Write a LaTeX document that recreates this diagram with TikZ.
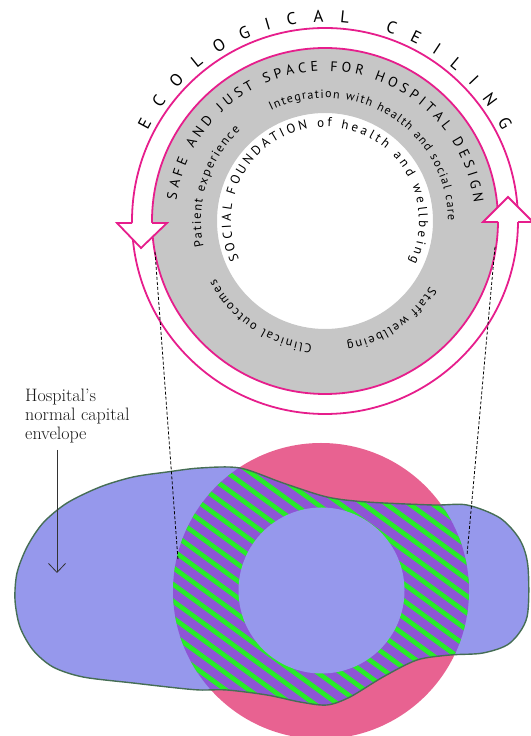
\documentclass[tikz,border=0pt]{standalone}
\usepackage{fontspec}
\newfontfamily\ringsans{PT Sans}
\usetikzlibrary{decorations.text,arrows.meta}
\definecolor{ringpink}{RGB}{230,30,140}
\definecolor{ringgray}{RGB}{198,198,198}
\definecolor{blobblue}{RGB}{150,152,236}
\definecolor{blobpurple}{RGB}{142,85,213}
\definecolor{stripegreen}{RGB}{40,235,40}
\definecolor{rosepink}{RGB}{232,98,145}
\definecolor{blobedge}{RGB}{70,110,85}
\tikzset{
  ringline/.style={ringpink, line width=1.8pt},
  ringtext/.style={decorate, decoration={text along path, text align=fit to path, text={#1}}},
  dashlink/.style={black, line width=0.8pt, dash pattern=on 3pt off 2pt},
  stripe/.style={stripegreen, line width=4.8pt},
  headoutline/.style={ringline, line join=miter}
}
\begin{document}
\begin{tikzpicture}[x=1pt,y=1pt]
\useasboundingbox (0,0) rectangle (530,736);

% ---------- bottom: pink circle, envelope blob, stripes ----------
\fill[rosepink] (321,145) circle[radius=148];
\begin{scope}
  \clip plot[smooth cycle] coordinates {(15,136) (17,163) (27,189) (43,213) (67,233) (100,249) (133,259) (167,264) (200,268) (240,268) (283,253) (327,239) (367,234) (433,231) (467,231) (500,218) (520,196) (528,169) (527,119) (510,93) (483,83) (450,81) (417,76) (383,59) (350,39) (327,31) (300,34) (267,41) (227,46) (200,46) (177,48) (133,53) (83,59) (53,69) (33,86) (20,109)};
  \fill[blobblue] (0,0) rectangle (530,736);
  \clip (321,145) circle[radius=148];
  \fill[blobpurple] (0,0) rectangle (530,736);
  \begin{scope}[shift={(321,145)}, rotate=-36]
    \foreach \k in {-13,...,13} {
      \draw[stripe] (-220,\k*13.6) -- (220,\k*13.6);
    }
  \end{scope}
\end{scope}
\fill[blobblue] (321.5,145.5) circle[radius=83];
\draw[blobedge, line width=1.4pt] plot[smooth cycle] coordinates {(15,136) (17,163) (27,189) (43,213) (67,233) (100,249) (133,259) (167,264) (200,268) (240,268) (283,253) (327,239) (367,234) (433,231) (467,231) (500,218) (520,196) (528,169) (527,119) (510,93) (483,83) (450,81) (417,76) (383,59) (350,39) (327,31) (300,34) (267,41) (227,46) (200,46) (177,48) (133,53) (83,59) (53,69) (33,86) (20,109)};

% ---------- ring ----------
\begin{scope}[shift={(325,515)}]
  \fill[ringgray, even odd rule] (0,0) circle[radius=173] (0,0) circle[radius=108];
  \draw[ringline] (0,0) circle[radius=173];
  \draw[ringline] (0,0) circle[radius=193];
  \path[ringtext={|\ringsans\fontsize{17}{17}\selectfont|ECOLOGICAL CEILING}]
    (153:199) arc[start angle=153, end angle=27, radius=199];
  \path[ringtext={|\ringsans\fontsize{14}{14}\selectfont|SAFE AND JUST SPACE FOR HOSPITAL DESIGN}]
    (172:150) arc[start angle=172, end angle=7, radius=150];
  \path[ringtext={|\ringsans\fontsize{12}{12}\selectfont|Integration with health and social care}]
    (116:123) arc[start angle=116, end angle=0, radius=123];
  \path[ringtext={|\ringsans\fontsize{12.5}{12.5}\selectfont|Patient experience}]
    (192:124) arc[start angle=192, end angle=133, radius=124];
  \path[ringtext={|\ringsans\fontsize{12.5}{12.5}\selectfont|Staff wellbeing}]
    (-32:124) arc[start angle=-32, end angle=-80, radius=124];
  \path[ringtext={|\ringsans\fontsize{12.5}{12.5}\selectfont|Clinical outcomes}]
    (-96:124) arc[start angle=-96, end angle=-152, radius=124];
  \path[ringtext={|\ringsans\fontsize{13}{13}\selectfont|SOCIAL FOUNDATION of health and wellbeing}]
    (204:94) arc[start angle=204, end angle=-26, radius=94];
\end{scope}

% arrowheads on the ceiling band
\fill[white] (117,513) -- (141,488) -- (167,513) -- cycle;
\draw[headoutline] (132,513) -- (117,513) -- (141,488) -- (167,513) -- (152,513);
\fill[white] (483,514) -- (508,539) -- (533,514) -- cycle;
\draw[headoutline] (498,514) -- (483,514) -- (508,539) -- (533,514) -- (518,514);

% ---------- dashed projection lines ----------
\coordinate (ringL) at (155,484);
\coordinate (blobL) at (178,176);
\coordinate (ringR) at (495,489);
\coordinate (blobR) at (467,181);
\draw[dashlink] (ringL) -- (blobL);
\draw[dashlink] (ringR) -- (blobR);

% ---------- label ----------
\node[anchor=north west, inner sep=0pt, align=left, font=\fontsize{18}{19}\selectfont, text=black!90] (label) at (25,347) {Hospital's\\normal capital\\envelope};
\coordinate (arrTop) at (57,286);
\coordinate (arrEnd) at (57,163);
\draw[-{Straight Barb[length=9pt,width=17pt]}, line width=0.8pt, black!80] (arrTop) -- (arrEnd);
\end{tikzpicture}
\end{document}
